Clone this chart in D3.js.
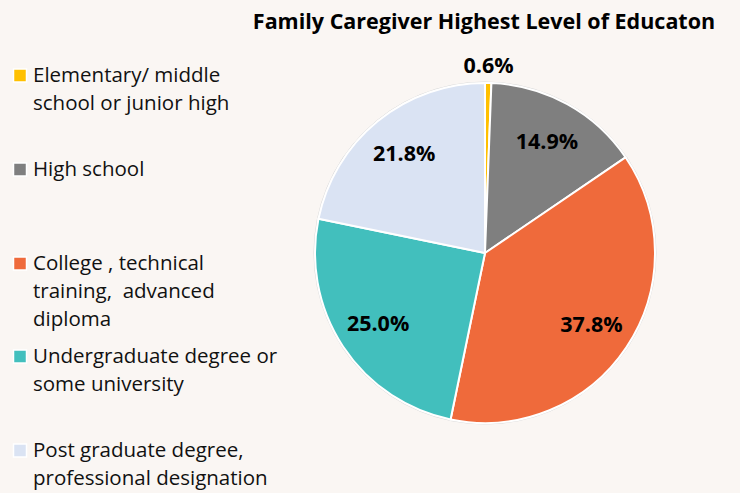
<!DOCTYPE html>
<html>
<head>
<meta charset="utf-8">
<script src="https://cdn.jsdelivr.net/npm/d3@7"></script>
<style>
  body { margin: 0; background: #FAF6F3; }
  svg { font-family: "Open Sans", "Noto Sans", sans-serif; }
  svg text { white-space: pre; }
</style>
</head>
<body>
<div id="chart"></div>
<script>
var title = 'Family Caregiver Highest Level of Educaton';

var categories = [
  ['Elementary/ middle', 'school or junior high'],
  ['High school'],
  ['College , technical', 'training,  advanced', 'diploma'],
  ['Undergraduate degree or', 'some university'],
  ['Post graduate degree,', 'professional designation']
];

var values = [0.6, 14.9, 37.8, 25.0, 21.8];

var colors = ['#FFC000', '#7F7F7F', '#EF6A3B', '#42BFBD', '#DAE3F3'];

// legend line baselines of each entry (first line)
var legendY = [82, 176, 270, 363, 457];

var width = 740, height = 493;
var cx = 485, cy = 253, r = 170;

var svg = d3.select('#chart').append('svg')
  .attr('width', width)
  .attr('height', height);

svg.append('text')
  .attr('x', 484)
  .attr('y', 29)
  .attr('text-anchor', 'middle')
  .style('font-size', '21.5px')
  .style('font-weight', 'bold')
  .style('fill', '#000')
  .text(title);

var pie = d3.pie().sort(null).value(function(d) { return d; });
var arcs = pie(values);

var arc = d3.arc().innerRadius(0).outerRadius(r);
var labelArc = d3.arc().innerRadius(128).outerRadius(128);
var outerLabelArc = d3.arc().innerRadius(188).outerRadius(188);

var g = svg.append('g').attr('transform', 'translate(' + cx + ',' + cy + ')');

g.append('circle')
  .attr('r', r + 1)
  .style('fill', 'none')
  .style('stroke', '#d9d9d9')
  .style('stroke-width', 1);

g.selectAll('path.slice').data(arcs).enter()
  .append('path')
    .attr('class', 'slice')
    .attr('d', arc)
    .style('fill', function(d, i) { return colors[i]; })
    .style('stroke', '#fff')
    .style('stroke-width', 2);

g.selectAll('text.lbl').data(arcs).enter()
  .append('text')
    .attr('class', 'lbl')
    .attr('transform', function(d) {
      var c = d.data < 2 ? outerLabelArc.centroid(d) : labelArc.centroid(d);
      return 'translate(' + c + ')';
    })
    .attr('text-anchor', 'middle')
    .attr('dy', '0.35em')
    .style('font-size', '21.5px')
    .style('font-weight', 'bold')
    .style('fill', '#000')
    .text(function(d) { return d.data.toFixed(1) + '%'; });

var legend = svg.selectAll('g.legend').data(categories).enter()
  .append('g')
    .attr('class', 'legend')
    .attr('transform', function(d, i) { return 'translate(0,' + legendY[i] + ')'; });

legend.append('rect')
  .attr('x', 13.5)
  .attr('y', -13)
  .attr('width', 13)
  .attr('height', 13)
  .style('fill', function(d, i) { return colors[i]; })
  .style('stroke', '#fff')
  .style('stroke-width', 1.5);

legend.append('text')
  .attr('x', 33)
  .style('font-size', '20.5px')
  .style('fill', '#111')
  .selectAll('tspan').data(function(d) { return d; }).enter()
  .append('tspan')
    .attr('x', 33)
    .attr('dy', function(d, i) { return i === 0 ? 0 : 28; })
    .text(function(d) { return d; });
</script>
</body>
</html>
